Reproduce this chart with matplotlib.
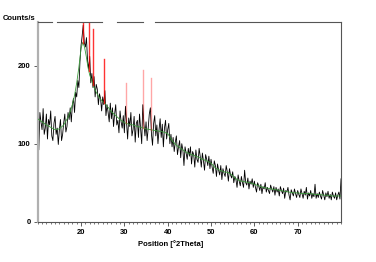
## plot.py
## XRD scan with background and reference lines
import numpy as np
import matplotlib.pyplot as plt
from matplotlib.ticker import MultipleLocator

plt.rcParams['font.family'] = ['Liberation Sans', 'DejaVu Sans']

# measured counts, 0.25 deg steps from 10 to 80
start, step = 10.0, 0.25
counts = [
    155, 92, 140, 128, 118, 145, 112, 120, 138, 106, 131, 124, 142, 110, 104, 126, 135, 112, 120, 99,
    118, 131, 104, 112, 127, 138, 115, 122, 140, 131, 146, 128, 150, 158, 140, 166, 160, 181, 172, 205,
    226, 238, 252, 230, 224, 236, 206, 196, 212, 178, 190, 172, 186, 160, 176, 170, 150, 164, 158, 142,
    160, 150, 168, 136, 150, 140, 128, 152, 132, 146, 122, 138, 150, 124, 130, 114, 142, 128, 120, 136,
    114, 148, 128, 106, 133, 122, 140, 110, 118, 135, 102, 126, 130, 108, 138, 118, 100, 150, 126, 110,
    128, 104, 120, 138, 146, 112, 98, 126, 136, 110, 124, 100, 118, 132, 108, 125, 96, 120, 130, 106,
    118, 126, 100, 112, 96, 108, 90, 102, 110, 86, 96, 104, 82, 100, 92, 72, 96, 88, 80, 94,
    84, 96, 74, 90, 86, 70, 92, 80, 76, 94, 84, 70, 88, 78, 66, 86, 80, 72, 84, 68,
    80, 70, 62, 78, 72, 58, 74, 66, 60, 72, 54, 68, 62, 58, 72, 64, 52, 68, 60, 56,
    64, 50, 58, 54, 44, 60, 52, 46, 58, 50, 44, 66, 50, 47, 56, 42, 52, 48, 55, 44,
    52, 44, 38, 50, 46, 40, 48, 36, 45, 42, 50, 38, 44, 40, 36, 47, 42, 38, 45, 34,
    44, 38, 42, 33, 45, 40, 36, 43, 30, 40, 38, 44, 34, 28, 41, 37, 33, 42, 36, 31,
    40, 35, 31, 42, 36, 30, 39, 34, 44, 29, 37, 33, 40, 30, 36, 32, 48, 30, 36, 31,
    38, 33, 29, 40, 34, 28, 37, 32, 39, 30, 35, 28, 38, 33, 30, 37, 28, 34, 38, 29,
    55,
]

# fitted background
bg_pos = [10, 11, 12, 13, 14, 15, 16, 17, 17.5, 18, 18.5, 19, 19.5, 20, 20.4, 20.8, 21.2, 21.6,
          22, 22.5, 23, 23.5, 24, 24.5, 25, 25.5, 26, 26.5, 27, 28, 29, 30, 31, 32, 33, 34, 35,
          36, 37, 38, 39, 40, 41, 42, 43, 44, 45, 46, 47, 48, 49, 50, 51, 52, 53, 54, 55, 56,
          57, 58, 59, 60, 61, 62, 63, 64, 65, 66, 67, 68, 69, 70, 71, 72, 73, 74, 75, 76, 77,
          78, 79, 80]
bg_val = [132, 128, 124, 121, 118, 119, 124, 134, 141, 150, 162, 178, 198, 222, 230, 224, 212, 198,
          188, 180, 172, 166, 161, 157, 154, 152, 148, 145, 141, 136, 131, 127, 125, 124, 122, 121, 119,
          118, 117, 116, 115, 113, 104, 98, 94, 90, 87, 85, 83, 80, 78, 75, 69, 66, 64, 63, 59, 54,
          52, 51, 50, 48, 46, 44, 43, 42, 41, 40, 39, 38, 37, 37, 36, 36, 36, 35, 35, 34, 34,
          33, 33, 33]

# reference pattern lines
ref_pos = [20.5, 21.8, 22.8, 25.4, 30.3, 34.3, 36.1]
ref_top = [275, 272, 247, 209, 178, 194, 184]
ref_alpha = [0.8, 0.8, 0.8, 0.8, 0.35, 0.35, 0.35]

pos = start + step * np.arange(len(counts))

fig = plt.figure(figsize=(3.76, 2.62), dpi=100)
ax = fig.add_axes([0.1003, 0.1538, 0.8067, 0.7622])

ax.plot(pos, counts, color='black', lw=0.6, zorder=2)
ax.plot(bg_pos, bg_val, color='#3a9a3a', lw=0.6, zorder=3)
base = np.interp(ref_pos, bg_pos, bg_val)
for p, t, b, a in zip(ref_pos, ref_top, base, ref_alpha):
    ax.plot([p, p], [b, t], color='red', lw=1.0, alpha=a, zorder=4)

ax.set_xlim(10, 80)
ax.set_ylim(0, 256)
ax.set_xticks([20, 30, 40, 50, 60, 70])
ax.xaxis.set_minor_locator(MultipleLocator(1))
ax.set_yticks([0, 100, 200])
ax.tick_params(axis='both', which='major', length=3, width=0.6, color='#444444',
               labelsize=5.5, pad=2)
ax.tick_params(axis='x', which='minor', length=1.5, width=0.5, color='#444444')
for lab in ax.get_xticklabels() + ax.get_yticklabels():
    lab.set_fontweight('bold')

ax.spines['left'].set_color('#b0b0b0')
ax.spines['left'].set_linewidth(1.6)
ax.spines['bottom'].set_color('#555555')
ax.spines['bottom'].set_linewidth(0.8)
ax.spines['right'].set_color('#555555')
ax.spines['right'].set_linewidth(0.8)
ax.spines['top'].set_visible(False)
# top border is broken into pieces in the original
for x0, x1 in [(10, 13.3), (14.5, 24.8), (28.3, 34.3), (37.1, 80)]:
    ax.plot([x0, x1], [1, 1], transform=ax.get_xaxis_transform(), color='#555555',
            lw=0.8, clip_on=False, zorder=5)

fig.text(0.008, 0.93, 'Counts/s', fontsize=5.5, fontweight='bold', va='center', ha='left')
fig.text(171 / 376, 1 - 244 / 262, 'Position [°2Theta]', fontsize=5.5, fontweight='bold',
         va='center', ha='center')

fig.savefig('out.png', dpi=100)
